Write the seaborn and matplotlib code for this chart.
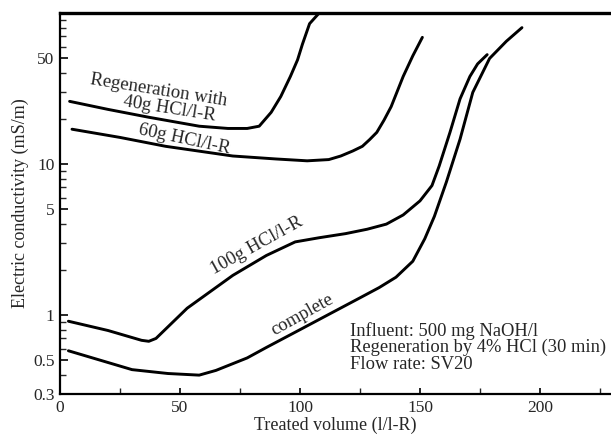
import numpy as np
import pandas as pd
import matplotlib
matplotlib.use("Agg")
import matplotlib.pyplot as plt
import seaborn as sns
from matplotlib.ticker import FixedLocator, FixedFormatter, NullFormatter

# ---- data ----
x_40g = [4, 20, 37, 58, 70, 78, 83, 88, 92, 96, 99, 101, 104, 108]
y_40g = [26, 23, 20.4, 17.8, 17.2, 17.2, 17.8, 22, 28, 38, 49, 62, 85, 100]

x_60g = [5, 25, 44, 72, 90, 103, 112, 117, 122, 126, 129, 132, 135, 138, 143, 147, 151]
y_60g = [17, 15, 13.1, 11.3, 10.8, 10.5, 10.7, 11.3, 12.2, 13.1, 14.5, 16.2, 19.5, 24, 38, 52, 69]

x_100g = [3.5, 20, 34, 37, 40, 53, 72, 86, 98, 108, 119, 128, 136, 143, 150, 155, 158, 162.5, 166.7, 170.8, 174, 178]
y_100g = [0.91, 0.79, 0.68, 0.67, 0.70, 1.11, 1.83, 2.48, 3.05, 3.25, 3.46, 3.7, 4.0, 4.6, 5.7, 7.2, 9.7, 16.2, 27, 38, 46, 53]

x_complete = [3.5, 30, 45, 58, 65, 78, 86, 100, 112.5, 125, 133, 140, 147, 152, 156, 161, 166.7, 172, 179, 186, 192.5]
y_complete = [0.58, 0.435, 0.41, 0.40, 0.43, 0.52, 0.61, 0.80, 1.02, 1.30, 1.52, 1.78, 2.27, 3.2, 4.5, 7.6, 14.6, 29.8, 50, 65, 80]

series_names = ["40g", "60g", "100g", "complete"]

y_ticks = [0.3, 0.5, 1, 5, 10, 50]
y_tick_labels = ["0.3", "0.5", "1", "5", "10", "50"]
x_ticks = [0, 50, 100, 150, 200]
x_tick_labels = ["0", "50", "100", "150", "200"]

frames = []
for name, xs, ys in zip(series_names,
                        [x_40g, x_60g, x_100g, x_complete],
                        [y_40g, y_60g, y_100g, y_complete]):
    frames.append(pd.DataFrame({"x": xs, "y": ys, "series": name}))
df = pd.concat(frames, ignore_index=True)

sns.set_theme(style="ticks")
SERIF = ["Liberation Serif", "DejaVu Serif"]
plt.rcParams["font.family"] = SERIF

fig = plt.figure(figsize=(6.11, 4.36), dpi=100)
ax = fig.add_axes([60 / 611, (436 - 394) / 436, (611 - 60) / 611, (394 - 13) / 436])

sns.lineplot(data=df, x="x", y="y", units="series", estimator=None, sort=False,
             color="black", linewidth=2.1, ax=ax)

ax.set_yscale("log")
ax.set_xlim(0, 229.6)
ax.set_ylim(0.3, 100)

ax.yaxis.set_major_locator(FixedLocator(y_ticks))
ax.yaxis.set_major_formatter(FixedFormatter(y_tick_labels))
minor_y = [v * d for d in [0.1, 1, 10] for v in range(1, 10)]
minor_y = [m for m in minor_y if 0.3 < m < 100 and not any(abs(m - t) < 1e-9 for t in y_ticks)]
ax.yaxis.set_minor_locator(FixedLocator(minor_y))
ax.yaxis.set_minor_formatter(NullFormatter())

ax.xaxis.set_major_locator(FixedLocator(x_ticks))
ax.xaxis.set_major_formatter(FixedFormatter(x_tick_labels))
ax.xaxis.set_minor_locator(FixedLocator([25, 75, 125, 175, 225]))

ax.tick_params(axis="both", which="major", direction="in", labelsize=12.5, width=1.2, color="black", pad=4)
ax.tick_params(axis="y", which="major", length=6)
ax.tick_params(axis="y", which="minor", direction="in", length=4, width=1.0)
ax.tick_params(axis="x", which="major", length=4)
ax.tick_params(axis="x", which="minor", direction="in", length=4, width=1.0)

ax.spines["right"].set_visible(False)
ax.spines["top"].set_linewidth(2.4)
ax.spines["left"].set_linewidth(1.6)
ax.spines["bottom"].set_linewidth(1.6)
for s in ax.spines.values():
    s.set_color("black")

ax.set_xlabel("Treated volume (l/l-R)", fontsize=13, labelpad=1)
ax.set_ylabel("Electric conductivity (mS/m)", fontsize=13, labelpad=3)

# curve labels
ax.text(41, 30.7, "Regeneration with", rotation=-9, ha="center", va="center",
        fontsize=13.5, rotation_mode="anchor")
ax.text(45.5, 23, "40g HCl/l-R", rotation=-9, ha="center", va="center",
        fontsize=13.5, rotation_mode="anchor")
ax.text(52, 14.6, "60g HCl/l-R", rotation=-12, ha="center", va="center",
        fontsize=13.5, rotation_mode="anchor")
ax.text(82, 2.89, "100g HCl/l-R", rotation=29, ha="center", va="center",
        fontsize=13.5, rotation_mode="anchor")
ax.text(100.8, 1.0, "complete", rotation=29, ha="center", va="center",
        fontsize=13.5, rotation_mode="anchor")

fig.text(350 / 611, 1 - 331 / 436, "Influent: 500 mg NaOH/l", ha="left", va="center", fontsize=13.3)
fig.text(350 / 611, 1 - 347 / 436, "Regeneration by 4% HCl (30 min)", ha="left", va="center", fontsize=13.3)
fig.text(350 / 611, 1 - 364 / 436, "Flow rate: SV20", ha="left", va="center", fontsize=13.3)

fig.savefig("out.png", dpi=100, facecolor="white")
